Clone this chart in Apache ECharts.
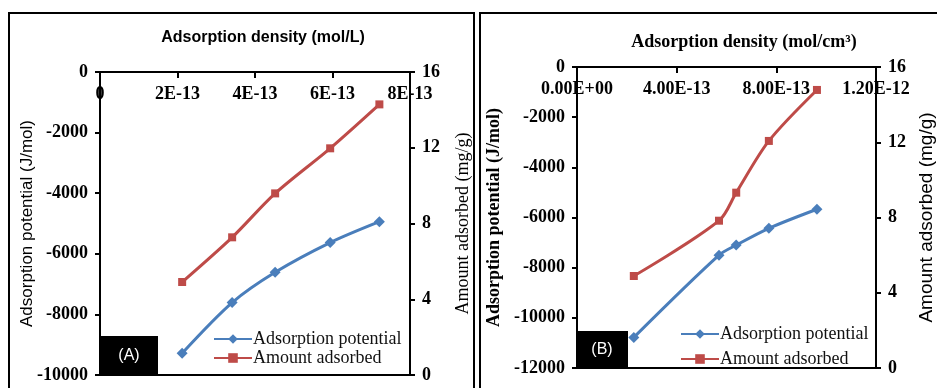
<!DOCTYPE html>
<html><head><meta charset="utf-8">
<script src="https://cdn.jsdelivr.net/npm/echarts@6/dist/echarts.min.js"></script>
<style>html,body{margin:0;padding:0;background:#fff}#c{width:937px;height:388px}</style>
</head><body><div id="c"></div>
<script>
// Panel A (x in units of 1E-13 mol/L)
const densityA = [2.12, 3.41, 4.52, 5.94, 7.21];
const potentialA = [-9280, -7610, -6610, -5630, -4940];
const amountA = [4.91, 7.27, 9.59, 11.97, 14.29];
const xTickLabelsA = ['0', '2E-13', '4E-13', '6E-13', '8E-13'];
// Panel B (x in units of 1E-13 mol/cm3)
const densityB = [2.28, 5.70, 6.39, 7.70, 9.63];
const potentialB = [-10780, -7500, -7100, -6430, -5670];
const amountB = [4.89, 7.83, 9.32, 12.07, 14.78];
const xTickLabelsB = ['0.00E+00', '4.00E-13', '8.00E-13', '1.20E-12'];

const BLUE = '#4A7EBB', RED = '#BE4B48';
const SERIF = '"Liberation Serif","Times New Roman",serif';
const SANS = '"Liberation Sans",Arial,sans-serif';
const pair = (xs, ys) => xs.map((x, i) => [x, ys[i]]);

const chart = echarts.init(document.getElementById('c'));

function xAx(gi, max, interval, labels) {
  return {
    gridIndex: gi, type: 'value', position: 'top', min: 0, max: max, interval: interval,
    axisLine: {show: true, onZero: false, lineStyle: {color: '#000', width: 2}},
    axisTick: {show: true, inside: true, length: 6, lineStyle: {color: '#000', width: 2}},
    axisLabel: {inside: true, margin: 13, color: '#000', fontFamily: SERIF, fontWeight: 'bold', fontSize: 18,
      formatter: v => labels[Math.round(v / interval)]},
    splitLine: {show: false}
  };
}
function yAx(gi, pos, min, max, interval, name, gap, font, weight, size) {
  return {
    gridIndex: gi, type: 'value', position: pos, min: min, max: max, interval: interval,
    name: name, nameLocation: 'middle', nameRotate: 90, nameGap: gap, nameMoveOverlap: false,
    nameTextStyle: {fontFamily: font, fontWeight: weight, fontSize: size, color: '#000'},
    axisLine: {show: true, onZero: false, lineStyle: {color: '#000', width: 2}},
    axisTick: {show: true, length: 5, lineStyle: {color: '#000', width: 2}},
    axisLabel: {margin: 12, color: '#000', fontFamily: SERIF, fontWeight: 'bold', fontSize: 18,
      formatter: v => String(v)},
    splitLine: {show: false}
  };
}
function ser(name, xi, yi, data, color, symbol, size) {
  return {
    name: name, type: 'line', xAxisIndex: xi, yAxisIndex: yi, data: data,
    smooth: 0.3, symbol: symbol, symbolSize: size,
    lineStyle: {color: color, width: 3}, itemStyle: {color: color}, z: 3
  };
}

chart.setOption({
  animation: false,
  grid: [
    {left: 100, right: 527, top: 72, bottom: 13, show: true, borderColor: '#000', borderWidth: 2, backgroundColor: 'transparent'},
    {left: 577, right: 53, top: 67, bottom: 20, show: true, borderColor: '#000', borderWidth: 2, backgroundColor: 'transparent'}
  ],
  xAxis: [xAx(0, 8, 2, xTickLabelsA), xAx(1, 12, 4, xTickLabelsB)],
  yAxis: [
    yAx(0, 'left', -10000, 0, 2000, 'Adsorption potential (J/mol)', 64, SANS, 'normal', 17),
    yAx(0, 'right', 0, 16, 4, 'Amount adsorbed (mg/g)', 44, SERIF, 'normal', 18),
    yAx(1, 'left', -12000, 0, 2000, 'Adsorption potential (J/mol)', 74, SERIF, 'bold', 18),
    yAx(1, 'right', 0, 16, 4, 'Amount adsorbed (mg/g)', 41, SANS, 'normal', 19)
  ],
  legend: [
    {orient: 'vertical', left: 208, top: 325, itemWidth: 38, itemHeight: 12, itemGap: 1,
      textStyle: {fontFamily: SERIF, fontSize: 18, color: '#111', padding: [0, 0, 0, -4]},
      data: ['Adsorption potential A', 'Amount adsorbed A'],
      formatter: n => n.slice(0, -2)},
    {orient: 'vertical', left: 675, top: 320, itemWidth: 38, itemHeight: 12, itemGap: 7,
      textStyle: {fontFamily: SERIF, fontSize: 18, color: '#111', padding: [0, 0, 0, -4]},
      data: ['Adsorption potential B', 'Amount adsorbed B'],
      formatter: n => n.slice(0, -2)}
  ],
  series: [
    ser('Adsorption potential A', 0, 0, pair(densityA, potentialA), BLUE, 'diamond', 11),
    ser('Amount adsorbed A', 0, 1, pair(densityA, amountA), RED, 'rect', 8),
    ser('Adsorption potential B', 1, 2, pair(densityB, potentialB), BLUE, 'diamond', 11),
    ser('Amount adsorbed B', 1, 3, pair(densityB, amountB), RED, 'rect', 8)
  ],
  graphic: [
    {type: 'rect', shape: {x: 9, y: 13, width: 465, height: 400}, style: {fill: 'none', stroke: '#000', lineWidth: 2}, z: 0},
    {type: 'rect', shape: {x: 480, y: 13, width: 470, height: 400}, style: {fill: 'none', stroke: '#000', lineWidth: 2}, z: 0},
    {type: 'text', x: 263, y: 38, style: {text: 'Adsorption density (mol/L)', fill: '#000', font: 'bold 16px ' + SANS, textAlign: 'center', textVerticalAlign: 'middle'}},
    {type: 'text', x: 744, y: 42, style: {text: 'Adsorption density (mol/cm³)', fill: '#000', font: 'bold 18px ' + SERIF, textAlign: 'center', textVerticalAlign: 'middle'}},
    {type: 'rect', shape: {x: 100, y: 336, width: 58, height: 39}, style: {fill: '#000'}, z: 10},
    {type: 'text', x: 129, y: 356, style: {text: '(A)', fill: '#fff', font: '16px ' + SANS, textAlign: 'center', textVerticalAlign: 'middle'}, z: 11},
    {type: 'rect', shape: {x: 577, y: 331, width: 51, height: 37}, style: {fill: '#000'}, z: 10},
    {type: 'text', x: 602, y: 350, style: {text: '(B)', fill: '#fff', font: '16px ' + SANS, textAlign: 'center', textVerticalAlign: 'middle'}, z: 11}
  ]
});
</script></body></html>
